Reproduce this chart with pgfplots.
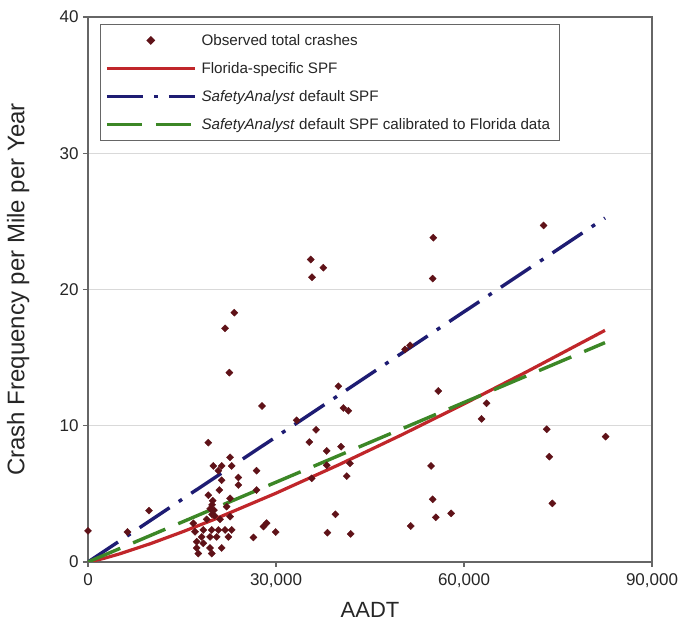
\documentclass[border=0pt]{standalone}
\usepackage{pgfplots}
\pgfplotsset{compat=1.18}
\usepackage{fontspec}
\setmainfont{Liberation Sans}
\definecolor{spfred}{RGB}{192,38,42}
\definecolor{spfblue}{RGB}{30,28,115}
\definecolor{spfgreen}{RGB}{60,135,38}
\definecolor{obsmark}{RGB}{95,18,24}
\pgfplotsset{
  mylinelegend/.style={legend image code/.code={\draw[##1] (0pt,0pt) -- (88pt,0pt);}},
  mymarklegend/.style={legend image code/.code={\draw[mark repeat=2,mark phase=2,##1] plot coordinates {(0pt,0pt) (44pt,0pt) (88pt,0pt)};}},
}
\begin{document}
\begin{tikzpicture}
\begin{axis}[
  at={(0,0)}, anchor=south west,
  scale only axis, width=564pt, height=545pt,
  xmin=0, xmax=90000, ymin=0, ymax=40,
  xtick={0,30000,60000,90000},
  xticklabels={0,{30,000},{60,000},{90,000}},
  ytick={0,10,20,30,40},
  scaled x ticks=false,
  xtick pos=bottom, ytick pos=left,
  tick align=outside,
  major tick length=5pt,
  tick style={gray!80!black, line width=1.2pt},
  axis line style={gray!80!black, line width=1.5pt},
  ymajorgrids, grid style={gray!30, line width=1pt},
  /pgf/number format/assume math mode=true,
  tick label style={font=\fontsize{17}{17}\selectfont, text=black!85},
  xticklabel style={yshift=-3pt},
  yticklabel style={xshift=-1pt},
  xlabel={AADT}, ylabel={Crash Frequency per Mile per Year},
  x label style={at={(axis description cs:0.5,-0.088)}, anchor=center, font=\fontsize{22}{22}\selectfont, text=black!85},
  y label style={at={(axis description cs:-0.124,0.5)}, anchor=center, font=\fontsize{24}{24}\selectfont, text=black!85},
  legend cell align=left,
  legend style={at={(axis description cs:0.0213,0.987)}, anchor=north west,
    draw=gray!80!black, line width=1.2pt, fill=white,
    font=\fontsize{15.2}{18}\selectfont, text=black!85,
    inner xsep=4.5pt, inner ysep=8pt, row sep=12.5pt,
    nodes={inner xsep=5pt, inner ysep=1.5pt}},
]
\addplot[mymarklegend, only marks, mark=square*, mark options={rotate=45}, mark size=2.5pt, color=obsmark]
coordinates {
(0,2.28) (6300,2.2) (9740,3.77) (16800,2.84) (17080,2.22) (17340,1.49)
(17340,1.03) (17600,0.62) (18140,1.84) (18400,1.37) (18400,2.35) (18940,3.13)
(19200,4.9) (19200,8.76) (19470,1.84) (19470,1.03) (19740,2.35) (19750,0.62)
(19800,3.5) (19800,4.2) (20100,3.8) (19500,3.9) (20200,3.4) (19900,4.5)
(20000,7.05) (20540,1.84) (20800,2.35) (20800,6.7) (20960,5.28) (21070,3.13)
(21330,1.03) (21330,6.0) (21330,7.05) (21870,2.35) (21870,17.15) (22130,4.06)
(22400,1.84) (22560,13.9) (22670,3.33) (22670,4.67) (22670,7.68) (22930,7.05)
(22930,2.35) (23350,18.3) (24000,5.65) (24000,6.2) (26400,1.8) (26900,6.7)
(26900,5.28) (27770,11.45) (28000,2.6) (28500,2.85) (29950,2.2) (33300,10.4)
(35320,8.8) (35540,22.2) (35700,6.14) (35750,20.9) (36390,9.7) (37560,21.6)
(38090,8.15) (38100,7.1) (38200,2.15) (39480,3.5) (39950,12.9) (40380,8.46)
(40750,11.3) (41290,6.3) (41550,11.1) (41800,7.24) (41920,2.06) (50600,15.6)
(51400,15.9) (51500,2.64) (54740,7.05) (55000,4.6) (55000,20.8) (55100,23.8)
(55500,3.28) (55900,12.55) (57950,3.57) (62800,10.5) (63600,11.65) (72700,24.7)
(73200,9.74) (73620,7.73) (74100,4.3) (82600,9.2)
};
\addlegendentry{Observed total crashes}
\addplot[mylinelegend, no marks, color=spfred, line width=3.2pt]
coordinates {(0,0) (2500,0.26) (5000,0.59) (10000,1.35) (15000,2.20) (20000,3.10)
(30000,5.05) (40000,7.13) (50000,9.32) (60000,11.60) (70000,13.96) (82500,17.0)};
\addlegendentry{Florida-specific SPF}
\addplot[mylinelegend, no marks, color=spfblue, line width=3.4pt,
  dash pattern=on 36pt off 11pt on 4pt off 11pt]
coordinates {(0,0) (82500,25.25)};
\addlegendentry{\textit{SafetyAnalyst} default SPF}
\addplot[mylinelegend, no marks, color=spfgreen, line width=3.4pt,
  dash pattern=on 35pt off 14pt]
coordinates {(0,0) (82500,16.1)};
\addlegendentry{\textit{SafetyAnalyst} default SPF calibrated to Florida data}
\end{axis}
\pgfresetboundingbox
\path (-88pt,-66pt) rectangle (593pt,562pt);
\end{tikzpicture}
\end{document}
